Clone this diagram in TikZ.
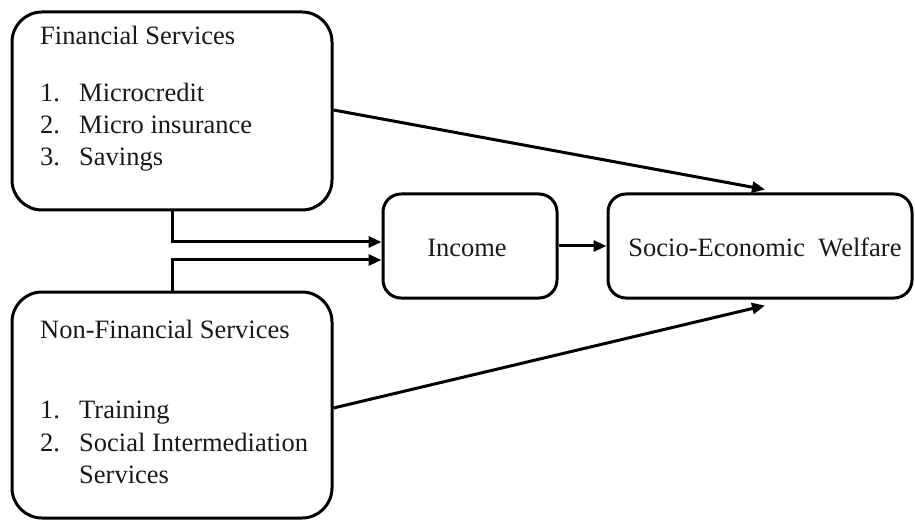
\documentclass[tikz,border=0pt]{standalone}
\usepackage{fontspec}
\setmainfont{Liberation Serif}
\usetikzlibrary{arrows.meta,calc}
\begin{document}
\begin{tikzpicture}[x=1pt,y=-1pt,
  box/.style={draw=black,line width=3pt,inner sep=0pt,fill=white},
  txt/.style={anchor=base west,inner sep=0pt,text=black!90,
    font=\fontsize{26.5}{31}\selectfont},
  arr/.style={line width=3pt,-{Triangle[length=13pt,width=11pt]}}]
  \useasboundingbox (0,0) rectangle (915,521);

  % boxes
  \node[box,rounded corners=30pt,minimum width=320pt,minimum height=198pt] (fin) at (172,111) {};
  \node[box,rounded corners=30pt,minimum width=320pt,minimum height=226pt] (nfin) at (172,405) {};
  \node[box,rounded corners=18pt,minimum width=174pt,minimum height=104pt] (inc) at (470,246) {};
  \node[box,rounded corners=18pt,minimum width=304pt,minimum height=104pt] (sew) at (760,246) {};

  % financial services
  \node[txt] (finT) at (40,45) {Financial Services};
  \node[txt] (fn1) at (40,102) {1.};
  \node[txt] (fi1) at (79,102) {Microcredit};
  \node[txt] (fn2) at (40,134) {2.};
  \node[txt] (fi2) at (79,134) {Micro insurance};
  \node[txt] (fn3) at (40,166) {3.};
  \node[txt] (fi3) at (79,166) {Savings};

  % non-financial services
  \node[txt] (nfinT) at (40,338) {Non-Financial Services};
  \node[txt] (nn1) at (40,418) {1.};
  \node[txt] (ni1) at (79,418) {Training};
  \node[txt] (nn2) at (40,451) {2.};
  \node[txt] (ni2) at (79,451) {Social Intermediation};
  \node[txt] (ni3) at (79,483) {Services};

  % outcome labels
  \node[txt,anchor=base] (incT) at (467,257) {Income};
  \node[txt,anchor=base] (sewT) at (765,257) {Socio-Economic\ \ Welfare};

  % connectors
  \draw[arr] (fin.south) |- ($(inc.west)+(0,-4)$);
  \draw[arr] (nfin.north) |- ($(inc.west)+(0,14)$);
  \draw[arr] (inc.east) -- (sew.west);
  \draw[arr] ($(fin.east)+(0,-1)$) -- ($(sew.north)+(5,-3)$);
  \draw[arr] ($(nfin.east)+(0,3)$) -- ($(sew.south)+(5,6)$);
\end{tikzpicture}
\end{document}
